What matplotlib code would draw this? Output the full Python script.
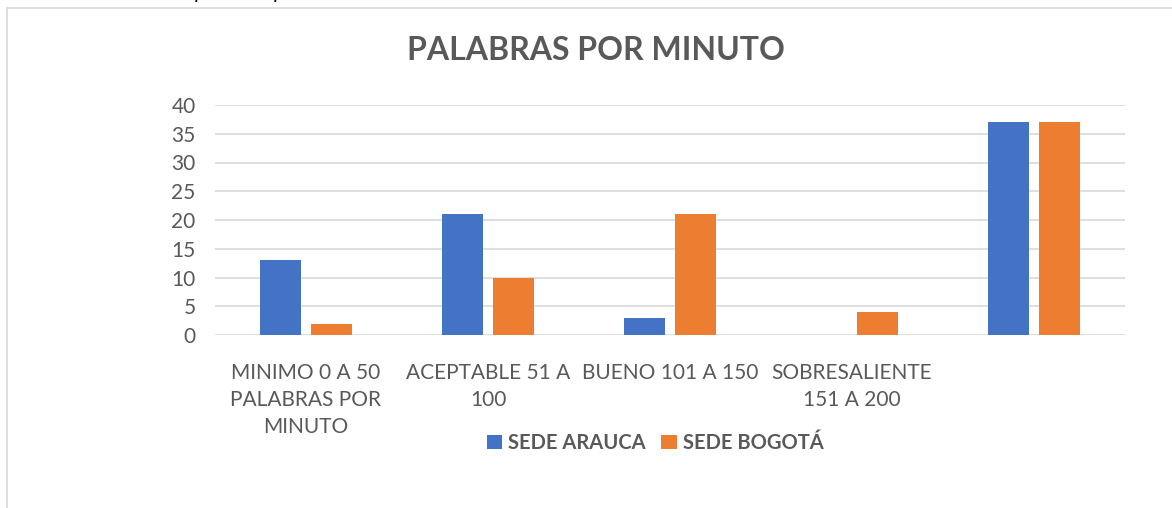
import numpy as np
import matplotlib.pyplot as plt
from matplotlib.patches import Rectangle

categories = ['MINIMO 0 A 50\nPALABRAS POR\nMINUTO', 'ACEPTABLE 51 A\n100', 'BUENO 101 A 150',
              'SOBRESALIENTE\n151 A 200', '']
arauca = [13, 21, 3, 0, 37]
bogota = [2, 10, 21, 4, 37]

blue = '#4472C4'
orange = '#ED7D31'
gray = '#595959'

plt.rcParams['font.family'] = ['Lato', 'DejaVu Sans']

fig = plt.figure(figsize=(11.72, 5.08), dpi=100)
W, H = 1172, 508

# chart border
fig.patches.append(Rectangle((7 / W, -0.01), 1.2, (508 - 8) / H + 0.01, transform=fig.transFigure,
                             fill=False, edgecolor='#D9D9D9', linewidth=1.2))

# cut-off caption above the chart
fig.text(120 / W, 1.0 + 2 / H, 'Nivel de palabras por minuto', style='italic', fontsize=15,
         color='black', va='baseline')

ax = fig.add_axes([215 / W, 1 - 335 / H, (1125 - 215) / W, (335 - 105) / H])
x = np.arange(len(categories))
w = 0.225
ax.bar(x - 0.03 - w / 2, arauca, width=w, color=blue, label='SEDE ARAUCA', zorder=3)
ax.bar(x + 0.03 + w / 2, bogota, width=w, color=orange, label='SEDE BOGOTÁ', zorder=3)

ax.set_xlim(-0.5, len(categories) - 0.5)
ax.set_ylim(0, 40)
ax.set_yticks(range(0, 41, 5))
ax.grid(axis='y', color='#D9D9D9', linewidth=1.2, zorder=0)
for s in ax.spines.values():
    s.set_visible(False)
ax.tick_params(length=0, labelsize=15, colors=gray, pad=14)
ax.set_xticks(x)
ax.set_xticklabels(categories, fontsize=15, color=gray, linespacing=1.45)
ax.tick_params(axis='x', pad=20)

fig.text(596 / W, 1 - 50 / H, 'PALABRAS POR MINUTO', fontsize=23, fontweight='bold', color=gray,
         ha='center', va='center')

leg = fig.legend(loc='center', bbox_to_anchor=(655 / W, 1 - 443 / H), ncol=2, frameon=False,
                 prop={'weight': 'bold', 'size': 14.5}, handlelength=0.75, handleheight=0.75,
                 handletextpad=0.3, columnspacing=0.8)
for t in leg.get_texts():
    t.set_color(gray)

fig.savefig('out.png', dpi=100)
